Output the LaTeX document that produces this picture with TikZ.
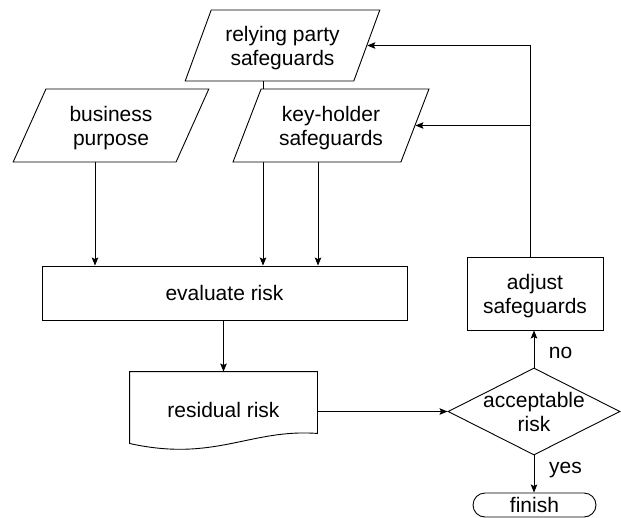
\documentclass[tikz,border=0pt]{standalone}
\usepackage{fontspec}
\setmainfont{Liberation Sans}
\usetikzlibrary{shapes.geometric,shapes.misc,arrows.meta}

\begin{document}
\begin{tikzpicture}[x=1pt,y=-1pt,line width=.9pt,>={Stealth[length=8pt,width=6.5pt,inset=1.5pt]},
 every node/.style={font=\fontsize{21}{24}\selectfont,align=center,inner sep=0pt,text depth=0pt},
 io/.style={draw,fill=white,trapezium,trapezium left angle=62,trapezium right angle=118,
  trapezium stretches=true,minimum width=196pt,minimum height=73pt},
 proc/.style={draw,fill=white,rectangle},
 decide/.style={draw,fill=white,diamond,minimum width=172pt,minimum height=87pt},
 stop/.style={draw,fill=white,rounded rectangle,minimum width=123pt,minimum height=24pt}]
 \useasboundingbox (0,0) rectangle (621,517);
 \node[io,minimum width=195pt,minimum height=71pt] (rp) at (282.5,45.5) {relying party\\safeguards};
 \node[io] (bp) at (111,125.5) {business\\purpose};
 \node[proc,minimum width=365pt,minimum height=54pt] (ev) at (224.5,293) {evaluate risk};
 \coordinate (r1) at ([xshift=-19.5pt]rp.south);
 \draw[->] (r1) -- (r1 |- ev.north);
 \node[io] (kh) at (331,125.5) {key-holder\\safeguards};
 \coordinate (k1) at ([xshift=-13pt]kh.south);
 \draw[->] (k1) -- (k1 |- ev.north);
 \coordinate (b1) at ([xshift=-16pt]bp.south);
 \draw[->] (b1) -- (b1 |- ev.north);
 \node[minimum width=187pt,minimum height=76pt] (res) at (223.5,410) {residual risk};
 \draw (res.north west) -- (res.north east) -- ([yshift=15pt]res.south east)
  .. controls +(-67,-5) and +(85,19) .. ([yshift=5pt]res.south west) -- cycle;
 \draw[->] (ev.south -| res.north) -- (res.north);
 \node[decide] (acc) at (534,411.5) {};
 \node (acct) at (acc) {acceptable\\risk};
 \draw[->] (res.east |- acc.west) -- (acc.west);
 \node[proc,minimum width=136pt,minimum height=73pt] (adj) at (535,293.5) {adjust\\safeguards};
 \node[stop] (fin) at (534.5,505) {finish};
 \draw[->] (acc.north) -- (acc.north |- adj.south);
 \draw[->] (acc.south) -- (acc.south |- fin.north);
 \node (no) at (560.5,352.5) {no};
 \node (yes) at (565.5,467.5) {yes};
 \coordinate (fb) at ([xshift=-5pt]adj.north);
 \draw[->] (fb) |- (rp.right side);
 \draw[->] (fb |- kh.right side) -- (kh.right side);
\end{tikzpicture}
\end{document}
